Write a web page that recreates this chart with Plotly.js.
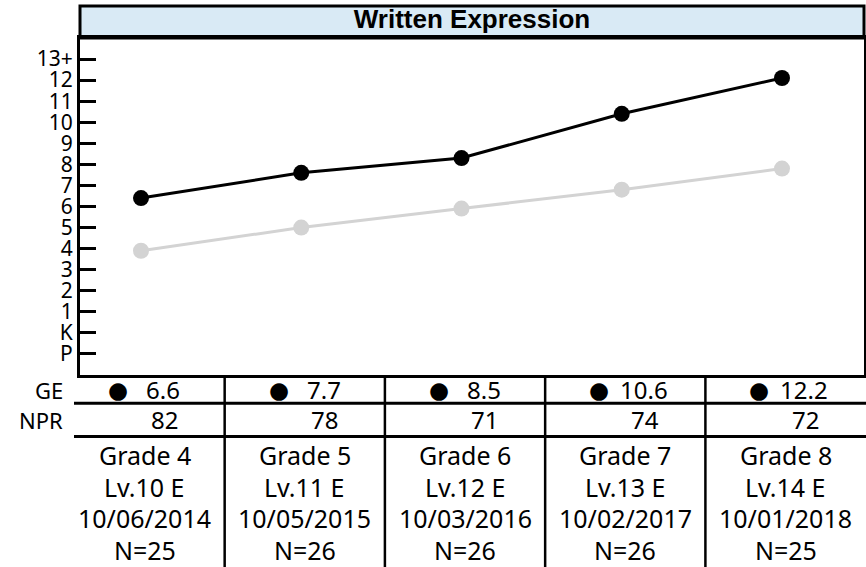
<!DOCTYPE html>
<html>
<head>
<meta charset="utf-8">
<script src="https://cdn.plot.ly/plotly-3.0.1.min.js"></script>
<style>html,body{margin:0;padding:0;background:#fff;}#chart{width:866px;height:567px;}</style>
</head>
<body>
<div id="chart"></div>
<script>
// ---- data ----
const grades = ['Grade 4', 'Grade 5', 'Grade 6', 'Grade 7', 'Grade 8'];
const levels = ['Lv.10 E', 'Lv.11 E', 'Lv.12 E', 'Lv.13 E', 'Lv.14 E'];
const testDates = ['10/06/2014', '10/05/2015', '10/03/2016', '10/02/2017', '10/01/2018'];
const nCounts = [25, 26, 26, 26, 25];
const geValues = ['6.6', '7.7', '8.5', '10.6', '12.2'];
const nprValues = [82, 78, 71, 74, 72];
const studentScores = [6.4, 7.6, 8.3, 10.4, 12.1];
const normScores = [3.9, 5.0, 5.9, 6.8, 7.8];
const yTickVals = [-1, 0, 1, 2, 3, 4, 5, 6, 7, 8, 9, 10, 11, 12, 13];
const yTickText = ['P', 'K', '1', '2', '3', '4', '5', '6', '7', '8', '9', '10', '11', '12', '13+'];

// ---- layout helpers ----
const PLOT_H = 337;
const py = p => (375 - p) / PLOT_H;   // pixel row below plot -> paper y
const xs = grades.map((_, i) => i);
const FONT = 'Noto Sans, DejaVu Sans, sans-serif';

const traces = [
  {
    x: xs, y: normScores, type: 'scatter', mode: 'lines+markers',
    line: {color: '#d3d3d3', width: 3},
    marker: {color: '#d3d3d3', size: 16},
    hoverinfo: 'skip'
  },
  {
    x: xs, y: studentScores, type: 'scatter', mode: 'lines+markers',
    line: {color: '#000000', width: 3},
    marker: {color: '#000000', size: 16},
    hoverinfo: 'skip'
  }
];

const shapes = [
  // title box
  {type: 'rect', xref: 'paper', yref: 'paper', x0: 0, x1: 1, y0: 1, y1: 1 + 32 / PLOT_H,
   fillcolor: '#d9eaf5', line: {color: '#000', width: 3}, layer: 'below'},
  // horizontal table lines
  {type: 'line', xref: 'paper', yref: 'paper', x0: -6 / 784, x1: 1.003, y0: py(403.3), y1: py(403.3),
   line: {color: '#000', width: 3}},
  {type: 'line', xref: 'paper', yref: 'paper', x0: -6 / 784, x1: 1.003, y0: py(436.5), y1: py(436.5),
   line: {color: '#000', width: 3}}
];
for (let i = 0; i < grades.length - 1; i++) {
  shapes.push({type: 'line', xref: 'x', yref: 'paper', x0: i + 0.522, x1: i + 0.522,
    y0: py(375), y1: py(567), line: {color: '#000', width: 2.5}});
}

const annotations = [];
const ann = (x, xref, y, text, size, extra) => Object.assign({
  x: x, xref: xref, y: y, yref: 'paper', text: text, showarrow: false,
  xanchor: 'center', yanchor: 'middle', font: {family: FONT, size: size, color: '#000'}
}, extra || {});

annotations.push(ann(-15 / 784, 'paper', py(390), 'GE', 22, {xanchor: 'right'}));
annotations.push(ann(-15 / 784, 'paper', py(420), 'NPR', 22, {xanchor: 'right'}));

grades.forEach((g, i) => {
  annotations.push(ann(i - 0.141, 'x', py(390), '●', 22, {font: {family: 'DejaVu Sans', size: 23, color: '#000'}}));
  annotations.push(ann(i + 0.14, 'x', py(389.5), geValues[i], 24));
  annotations.push(ann(i + 0.146, 'x', py(419.5), String(nprValues[i]), 24));
  annotations.push(ann(i + 0.022, 'x', py(455), g, 25));
  annotations.push(ann(i + 0.022, 'x', py(486.5), levels[i], 25));
  annotations.push(ann(i + 0.022, 'x', py(518), testDates[i], 25));
  annotations.push(ann(i + 0.022, 'x', py(549.5), 'N=' + nCounts[i], 25));
});

const layout = {
  width: 866, height: 567,
  margin: {l: 80, r: 2, t: 38, b: 192, pad: 0},
  paper_bgcolor: '#fff', plot_bgcolor: '#fff',
  showlegend: false,
  title: {
    text: '<b>Written Expression</b>',
    xref: 'paper', x: 0.5, xanchor: 'center',
    yref: 'paper', y: 1 + 16 / PLOT_H, yanchor: 'middle',
    font: {family: 'Liberation Sans, Arial, sans-serif', size: 26, color: '#000'}
  },
  xaxis: {
    range: [-0.3807, 4.5117], showgrid: false, zeroline: false,
    showticklabels: false, ticks: '', showline: true, mirror: true,
    linecolor: '#000', linewidth: 3, fixedrange: true
  },
  yaxis: {
    range: [-2, 14], showgrid: false, zeroline: false,
    tickmode: 'array', tickvals: yTickVals, ticktext: yTickText,
    ticks: 'inside', ticklen: 16, tickwidth: 3, tickcolor: '#000',
    ticklabelstandoff: 0,
    showline: true, mirror: true, linecolor: '#000', linewidth: 3,
    tickfont: {family: FONT, size: 21, color: '#000'}, fixedrange: true
  },
  shapes: shapes,
  annotations: annotations
};

Plotly.newPlot('chart', traces, layout, {displayModeBar: false, staticPlot: true});
</script>
</body>
</html>
